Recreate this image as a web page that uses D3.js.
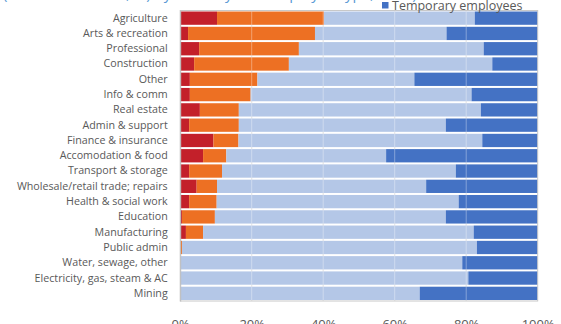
<!DOCTYPE html>
<html>
<head>
<meta charset="utf-8">
<script src="https://cdn.jsdelivr.net/npm/d3@7"></script>
<style>
  html, body { margin: 0; padding: 0; background: #fff; overflow: hidden; }
  svg { display: block; font-family: "Open Sans", "Noto Sans", sans-serif; }
</style>
</head>
<body>
<svg id="chart" width="561" height="324"></svg>
<script>
// Industries, top to bottom
const categories = [
  "Agriculture", "Arts & recreation", "Professional", "Construction", "Other",
  "Info & comm", "Real estate", "Admin & support", "Finance & insurance",
  "Accomodation & food", "Transport & storage", "Wholesale/retail trade; repairs",
  "Health & social work", "Education", "Manufacturing", "Public admin",
  "Water, sewage, other", "Electricity, gas, steam & AC", "Mining"
];

// Share of workers by employment type (%)
const selfEmployedWithStaff    = [10.3, 2.2, 5.3, 3.9, 2.7, 2.7, 5.5, 2.5, 9.3, 6.4, 2.5, 4.6, 2.5, 0.5, 1.6, 0.1, 0, 0, 0];
const selfEmployedWithoutStaff = [29.9, 35.5, 27.9, 26.5, 18.9, 17.0, 10.9, 13.9, 7.0, 6.5, 9.2, 5.7, 7.7, 9.2, 4.8, 0.4, 0, 0, 0];
const permanentEmployees       = [42.2, 36.8, 51.7, 56.9, 43.9, 61.8, 67.7, 57.9, 68.2, 44.7, 65.4, 58.5, 67.7, 64.6, 75.7, 82.5, 78.9, 80.6, 67.0];
const temporaryEmployees       = [17.6, 25.5, 15.1, 12.7, 34.5, 18.5, 15.9, 25.7, 15.5, 42.4, 22.9, 31.2, 22.1, 25.7, 17.9, 17.0, 21.1, 19.4, 33.0];

const seriesNames = ["Self-employed with employees", "Self-employed without employees", "Permanent employees", "Temporary employees"];
const seriesColors = ["#C3202A", "#ED7023", "#B4C7E7", "#4472C4"];
const tickValues = [0, 0.2, 0.4, 0.6, 0.8, 1.0];
const titleText = "(Share of workers, %) by industry and employee type, 2017)";

const svg = d3.select("#chart");
const margin = { left: 180.2, right: 23.3, top: 10.5, bottom: 23 };
const W = 561, H = 324;

const rows = categories.map((c, i) => ({
  category: c,
  s0: selfEmployedWithStaff[i],
  s1: selfEmployedWithoutStaff[i],
  s2: permanentEmployees[i],
  s3: temporaryEmployees[i]
}));
const keys = ["s0", "s1", "s2", "s3"];
const stacked = d3.stack().keys(keys).offset(d3.stackOffsetExpand)(rows);

const x = d3.scaleLinear().domain([0, 1]).range([margin.left, W - margin.right]);
const y = d3.scaleBand().domain(categories).range([margin.top, H - margin.bottom]).paddingInner(0.13).paddingOuter(0.065);

// Title (runs off the top edge)
svg.append("text")
  .attr("x", 3).attr("y", -1.5)
  .attr("fill", "#5B9BD5")
  .attr("font-size", 15)
  .text(titleText);

// Vertical gridlines
svg.append("g")
  .selectAll("line")
  .data(tickValues.slice(1, -1))
  .join("line")
  .attr("x1", d => x(d)).attr("x2", d => x(d))
  .attr("y1", margin.top).attr("y2", H - margin.bottom)
  .attr("stroke", "#d9d9d9").attr("stroke-width", 1);

// Stacked bars
svg.append("g")
  .selectAll("g")
  .data(stacked)
  .join("g")
  .attr("fill", (d, i) => seriesColors[i])
  .selectAll("rect")
  .data(d => d)
  .join("rect")
  .attr("x", d => x(d[0]))
  .attr("y", d => y(d.data.category))
  .attr("width", d => Math.max(0, x(d[1]) - x(d[0])))
  .attr("height", y.bandwidth());

// Gridlines showing faintly through the bars
svg.append("g")
  .selectAll("line")
  .data(tickValues.slice(1, -1))
  .join("line")
  .attr("x1", d => x(d)).attr("x2", d => x(d))
  .attr("y1", margin.top).attr("y2", H - margin.bottom)
  .attr("stroke", "#ffffff").attr("stroke-opacity", 0.35).attr("stroke-width", 1);

// Plot frame
svg.append("rect")
  .attr("x", margin.left).attr("y", margin.top)
  .attr("width", W - margin.right - margin.left)
  .attr("height", H - margin.bottom - margin.top)
  .attr("fill", "none").attr("stroke", "#c8c8c8").attr("stroke-width", 1);

// Category axis
const yAxis = svg.append("g")
  .attr("transform", `translate(${margin.left},0)`)
  .call(d3.axisLeft(y).tickSize(0).tickPadding(12.5));
yAxis.select(".domain").attr("stroke", "#bfbfbf");
yAxis.selectAll("text").attr("fill", "#595959").attr("font-size", 10.7)
  .attr("font-family", "'Open Sans', 'Noto Sans', sans-serif");

// Percentage axis
const xAxis = svg.append("g")
  .attr("transform", `translate(0,${H - margin.bottom})`)
  .call(d3.axisBottom(x).tickValues(tickValues).tickFormat(d3.format(".0%")).tickSize(0).tickPadding(19));
xAxis.select(".domain").remove();
xAxis.selectAll("text").attr("fill", "#595959").attr("font-size", 13)
  .attr("font-family", "'Open Sans', 'Noto Sans', sans-serif");

// Legend (visible entry)
const legend = svg.append("g").attr("transform", "translate(382,2)");
legend.append("rect").attr("width", 6.5).attr("height", 6.5).attr("fill", seriesColors[3]);
legend.append("text")
  .attr("x", 10).attr("y", 7.5)
  .attr("fill", "#595959").attr("font-size", 12.5)
  .text(seriesNames[3]);
</script>
</body>
</html>
